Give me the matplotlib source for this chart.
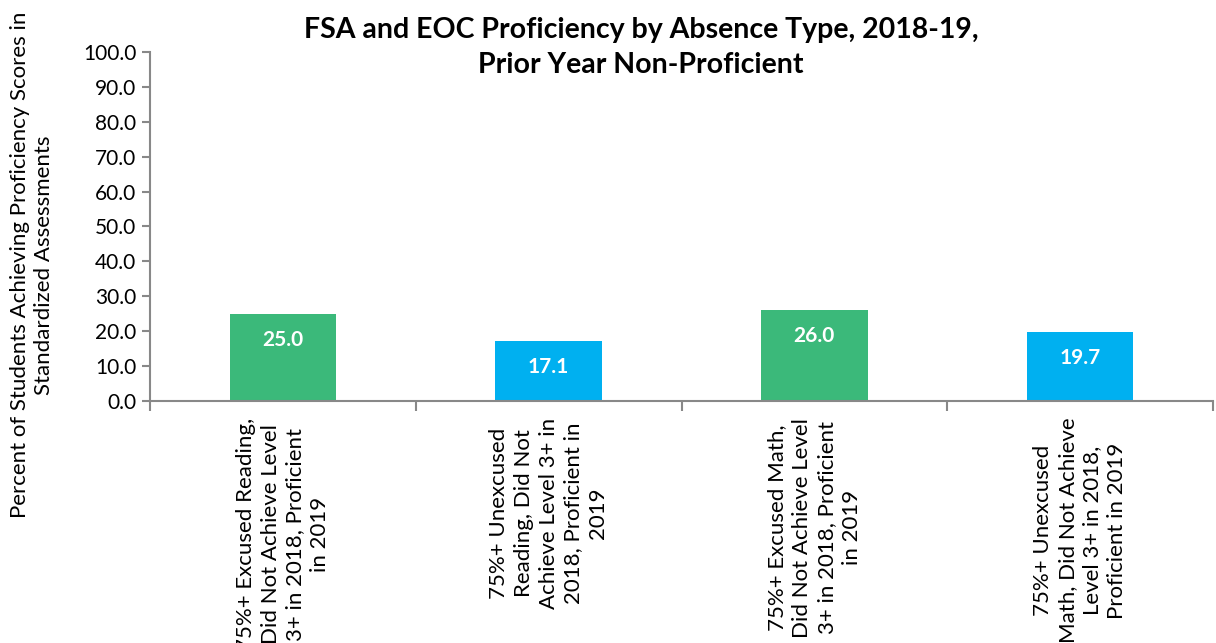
import matplotlib.pyplot as plt
import numpy as np

categories = [
    "75%+ Excused Reading,\nDid Not Achieve Level\n3+ in 2018, Proficient\nin 2019",
    "75%+ Unexcused\nReading, Did Not\nAchieve Level 3+ in\n2018, Proficient in\n2019",
    "75%+ Excused Math,\nDid Not Achieve Level\n3+ in 2018, Proficient\nin 2019",
    "75%+ Unexcused\nMath, Did Not Achieve\nLevel 3+ in 2018,\nProficient in 2019",
]
values = [25.0, 17.1, 26.0, 19.7]
colors = ["#3BB97A", "#00B0F0", "#3BB97A", "#00B0F0"]
yticks = np.arange(0, 101, 10)

plt.rcParams['font.family'] = ['Lato', 'DejaVu Sans']

fig = plt.figure(figsize=(12.16, 6.43), dpi=100)
ax = fig.add_axes([0.1234, 0.3764, 0.8741, 0.5427])

x = np.arange(len(values))
bars = ax.bar(x, values, width=0.4, color=colors)
for b, v in zip(bars, values):
    ax.text(b.get_x() + b.get_width() / 2, v - 7.5, f"{v:.1f}", ha='center', va='center',
            color='white', fontsize=15, fontweight='bold')

ax.set_xlim(-0.5, len(values) - 0.5)
ax.set_ylim(0, 100)
ax.set_yticks(yticks)
ax.set_yticklabels([f"{t:.1f}" for t in yticks], fontsize=15)
ax.set_xticks(x)
ax.set_xticklabels(categories, rotation=90, fontsize=16, va='top', ha='center',
                   multialignment='center', linespacing=1.3)
ax.tick_params(axis='x', length=0, pad=12)
ax.set_xticks(np.arange(-0.5, len(values)), minor=True)
ax.tick_params(axis='x', which='minor', length=7, color='#888888', width=1.5)
ax.tick_params(axis='y', length=6, color='#888888', width=1.5, pad=4)

for s in ['top', 'right']:
    ax.spines[s].set_visible(False)
for s in ['left', 'bottom']:
    ax.spines[s].set_color('#888888')
    ax.spines[s].set_linewidth(1.5)

fig.text(0.527, 0.926, "FSA and EOC Proficiency by Absence Type, 2018-19,\nPrior Year Non-Proficient",
         ha='center', va='center', fontsize=20.5, fontweight='bold', linespacing=1.45)
fig.text(0.026, 0.588, "Percent of Students Achieving Proficiency Scores in\nStandardized Assessments",
         ha='center', va='center', rotation=90, fontsize=16, linespacing=1.25)

fig.savefig("out.png", dpi=100)
